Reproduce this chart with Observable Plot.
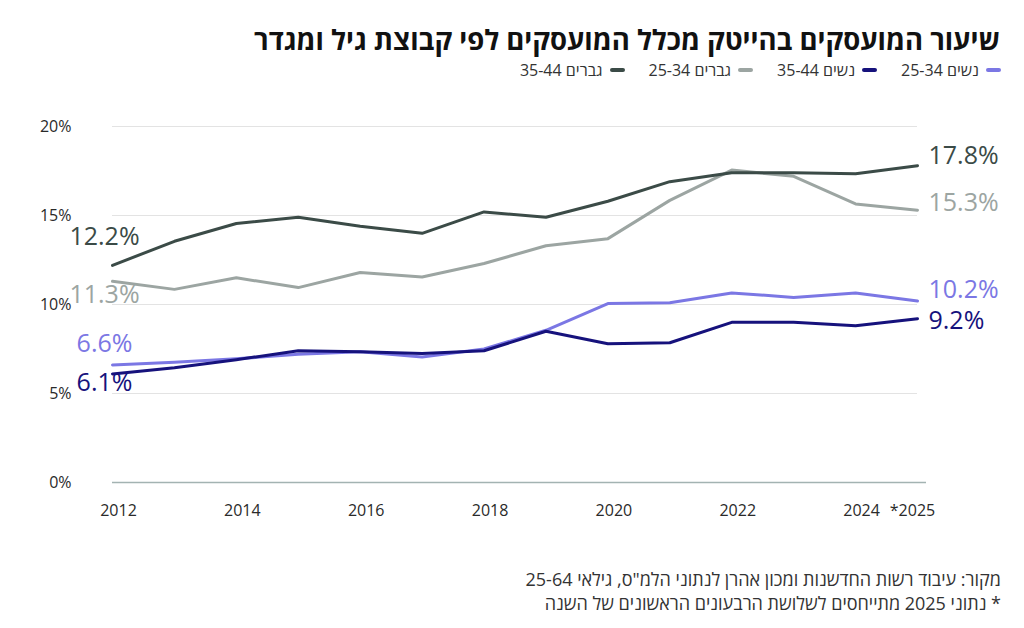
<!DOCTYPE html>
<html lang="he">
<head>
<meta charset="utf-8">
<script src="https://cdn.jsdelivr.net/npm/d3@7"></script>
<script src="https://cdn.jsdelivr.net/npm/@observablehq/plot@0.6"></script>
<style>
  html, body { margin: 0; padding: 0; background: #fff; }
  body {
    width: 1024px; height: 628px; position: relative; overflow: hidden;
    font-family: "Open Sans", "Liberation Sans", "DejaVu Sans", sans-serif;
    color: #1a1a1a;
  }
  #title {
    position: absolute; right: 24px; top: 20px; direction: rtl;
    font-size: 27.5px; font-weight: 700; line-height: 40px; white-space: nowrap; color: #111;
  }
  #legend {
    position: absolute; right: 23px; top: 60px; direction: rtl;
    display: flex; gap: 24px; font-size: 16px; line-height: 20px; color: #333; white-space: nowrap;
  }
  #legend .item { display: flex; align-items: center; gap: 7px; }
  #legend .sw { width: 15px; height: 4px; border-radius: 2px; }
  #chart { position: absolute; left: 0; top: 100px; }
  #foot {
    position: absolute; right: 23px; top: 567px; direction: rtl;
    font-size: 18px; line-height: 24px; color: #333; white-space: nowrap;
  }
</style>
</head>
<body>
<div id="title">שיעור המועסקים בהייטק מכלל המועסקים לפי קבוצת גיל ומגדר</div>
<div id="legend"></div>
<div id="chart"></div>
<div id="foot">
  <div>מקור: עיבוד רשות החדשנות ומכון אהרן לנתוני הלמ"ס, גילאי 25-64</div>
  <div>* נתוני 2025 מתייחסים לשלושת הרבעונים הראשונים של השנה</div>
</div>
<script>
// Share of high-tech employees among all employed, by age group and gender (%)
const years = [2012, 2013, 2014, 2015, 2016, 2017, 2018, 2019, 2020, 2021, 2022, 2023, 2024, 2025];
const women2534 = [6.6, 6.75, 6.95, 7.2, 7.35, 7.05, 7.5, 8.55, 10.05, 10.1, 10.65, 10.4, 10.65, 10.2];
const women3544 = [6.1, 6.45, 6.9, 7.4, 7.35, 7.25, 7.4, 8.5, 7.8, 7.85, 9.0, 9.0, 8.8, 9.2];
const men2534   = [11.3, 10.85, 11.5, 10.95, 11.8, 11.55, 12.3, 13.3, 13.7, 15.85, 17.55, 17.2, 15.65, 15.3];
const men3544   = [12.2, 13.55, 14.55, 14.9, 14.4, 14.0, 15.2, 14.9, 15.8, 16.9, 17.4, 17.4, 17.35, 17.8];

const seriesNames  = ["נשים 25-34", "נשים 35-44", "גברים 25-34", "גברים 35-44"];
const seriesValues = [women2534, women3544, men2534, men3544];
const seriesColors = ["#7b77e4", "#16127c", "#9ca5a2", "#3b4b47"];

const yTicks = [0, 5, 10, 15, 20];
const xTicks = [2012, 2014, 2016, 2018, 2020, 2022, 2024];
const partialYear = 2025;

// tidy rows for the library
const rows = seriesNames.flatMap((name, i) =>
  years.map((year, j) => ({series: name, year, value: seriesValues[i][j]}))
);

// legend (right to left)
const legend = document.getElementById("legend");
seriesNames.forEach((name, i) => {
  const item = document.createElement("div");
  item.className = "item";
  const sw = document.createElement("span");
  sw.className = "sw";
  sw.style.background = seriesColors[i];
  const label = document.createElement("span");
  label.textContent = name;
  item.append(sw, label);
  legend.append(item);
});

// end-label offsets (px) per series, in series order
const startDy = [-21.5, 8.6, 14, -28];
const endDy = [-11, 2.5, -7, -10];

const endLabels = seriesNames.flatMap((name, i) => {
  const first = rows.find(d => d.series === name && d.year === years[0]);
  const last = rows.find(d => d.series === name && d.year === years[years.length - 1]);
  const fmt = d => d.value.toFixed(1) + "%";
  return [
    Plot.text([first], {x: "year", y: "value", text: fmt, fill: seriesColors[i],
      textAnchor: "middle", dx: -8, dy: startDy[i], fontSize: 25}),
    Plot.text([last], {x: "year", y: "value", text: fmt, fill: seriesColors[i],
      textAnchor: "start", dx: 11, dy: endDy[i], fontSize: 25})
  ];
});

const chart = Plot.plot({
  width: 1024,
  height: 440,
  marginLeft: 112,
  marginRight: 107,
  marginTop: 26,
  marginBottom: 58,
  style: {fontFamily: "'Open Sans', 'Liberation Sans', sans-serif", fontSize: "16px", color: "#2a2a2a", background: "transparent"},
  x: {domain: [years[0], years[years.length - 1]], label: null},
  y: {domain: [0, 20], label: null},
  color: {domain: seriesNames, range: seriesColors},
  marks: [
    Plot.gridY(yTicks.slice(1), {stroke: "#e3e3e3", strokeOpacity: 1, strokeWidth: 1}),
    Plot.ruleY([0], {stroke: "#a3b3b2", strokeWidth: 1.5, insetRight: -9}),
    Plot.axisY(yTicks, {tickSize: 0, tickPadding: 41, tickFormat: d => d + "%", label: null, fontSize: 16}),
    Plot.axisX(xTicks, {tickSize: 0, tickPadding: 22, tickFormat: d => String(d), dx: 6, label: null, fontSize: 16}),
    Plot.axisX([partialYear], {tickSize: 0, tickPadding: 22, tickFormat: d => "*" + d, dx: -5, label: null, fontSize: 16}),
    Plot.line(rows, {x: "year", y: "value", z: "series", stroke: "series", strokeWidth: 3, strokeLinejoin: "round"}),
    ...endLabels
  ]
});
document.getElementById("chart").append(chart);
</script>
</body>
</html>
